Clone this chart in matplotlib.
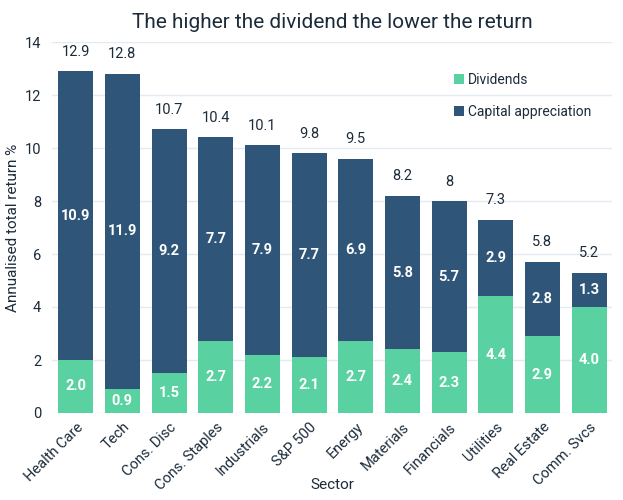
import numpy as np
import matplotlib.pyplot as plt

plt.rcParams['font.family'] = ['Roboto', 'DejaVu Sans']

sectors = ["Health Care", "Tech", "Cons. Disc", "Cons. Staples", "Industrials",
           "S&P 500", "Energy", "Materials", "Financials", "Utilities",
           "Real Estate", "Comm. Svcs"]
dividends = [2.0, 0.9, 1.5, 2.7, 2.2, 2.1, 2.7, 2.4, 2.3, 4.4, 2.9, 4.0]
capital = [10.9, 11.9, 9.2, 7.7, 7.9, 7.7, 6.9, 5.8, 5.7, 2.9, 2.8, 1.3]
totals = ["12.9", "12.8", "10.7", "10.4", "10.1", "9.8", "9.5", "8.2", "8",
          "7.3", "5.8", "5.2"]

green = "#5ad1a0"
blue = "#2f5679"
text_col = "#1c2b3a"

fig = plt.figure(figsize=(6.23, 5.0), dpi=100)
ax = fig.add_axes([0.084, 0.174, 0.899, 0.742])

x = np.arange(len(sectors))
ax.bar(x, dividends, width=0.75, color=green, label="Dividends", zorder=2)
ax.bar(x, capital, width=0.75, bottom=dividends, color=blue,
       label="Capital appreciation", zorder=2)

for i in range(len(sectors)):
    ax.text(x[i], dividends[i] / 2, f"{dividends[i]:.1f}", ha="center", va="center",
            color="white", fontsize=10.5, fontweight="bold", zorder=3)
    ax.text(x[i], dividends[i] + capital[i] / 2, f"{capital[i]:.1f}", ha="center",
            va="center", color="white", fontsize=10.5, fontweight="bold", zorder=3)
    ax.annotate(totals[i], (x[i], dividends[i] + capital[i]), xytext=(0, 9),
                textcoords="offset points", ha="center", va="bottom",
                fontsize=10.5, color=text_col)

ax.set_xlim(-0.5, len(sectors) - 0.5)
ax.set_ylim(0, 14)
ax.set_yticks(range(0, 15, 2))
ax.yaxis.grid(True, color="#e3eaf1", linewidth=1, zorder=0)
ax.set_axisbelow(True)
for s in ax.spines.values():
    s.set_visible(False)
ax.tick_params(length=0, colors=text_col, labelsize=10.5)
ax.tick_params(axis="y", pad=8)
ax.tick_params(axis="x", pad=5)
ax.set_xticks(x)
ax.set_xticklabels(sectors, rotation=45, ha="right", rotation_mode="anchor")

ax.set_xlabel("Sector", fontsize=11, color=text_col)
ax.xaxis.set_label_coords(0.5, -0.175)
ax.set_ylabel("Annualised total return %", fontsize=11, color=text_col)
ax.yaxis.set_label_coords(-0.058, 0.5)
ax.set_title("The higher the dividend the lower the return", fontsize=15,
             color=text_col, pad=10)

leg = ax.legend(loc="upper right", bbox_to_anchor=(0.985, 0.95), frameon=False,
                fontsize=10, handlelength=0.7, handleheight=0.7, handletextpad=0.3,
                labelspacing=1.3)
for t in leg.get_texts():
    t.set_color(text_col)

fig.savefig("out.png", dpi=100)
